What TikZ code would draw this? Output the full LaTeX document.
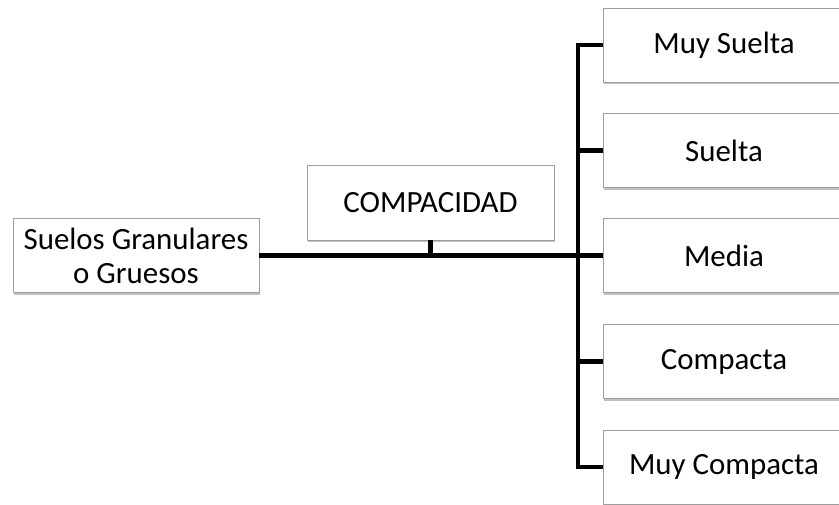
\documentclass[tikz,border=0pt]{standalone}
\usepackage{fontspec}
\setmainfont{Carlito}
\usetikzlibrary{shadows}
\begin{document}
\begin{tikzpicture}[x=1bp,y=1bp,
  box/.style={draw=black!38, line width=0.9bp, fill=white, inner sep=0pt,
    minimum height=74bp, align=center, font=\fontsize{31}{34}\selectfont,
    drop shadow={shadow xshift=1bp, shadow yshift=-2.5bp, opacity=0.35, fill=black!70}},
  leftbox/.style={box, minimum width=246bp},
  midbox/.style={box, minimum width=247bp, minimum height=75bp},
  rightbox/.style={box, minimum width=242bp},
  conn/.style={line width=4.5bp, black, line join=miter}]
\useasboundingbox (0,0) rectangle (839,505);
\node[leftbox] (suelos) at (136,249.5) {Suelos Granulares\\o Gruesos};
\node[midbox] (comp) at (430.5,302.5) {COMPACIDAD};
\node[rightbox] (ms) at (724,460) {Muy Suelta};
\node[rightbox] (su) at (724,354.5) {Suelta};
\node[rightbox] (me) at (724,249.5) {Media};
\node[rightbox] (co) at (724,143.5) {Compacta};
\node[rightbox] (mc) at (724,38) {Muy Compacta};
\coordinate (j) at (578,249.5);
\draw[conn, line width=5bp] (suelos.east) -- (j);
\draw[conn] (comp.south) -- (comp.south |- j);
\draw[conn] (ms.west) -- (ms.west -| j) -- (mc.west -| j) -- (mc.west);
\draw[conn] (su.west -| j) -- (su.west);
\draw[conn] (me.west -| j) -- (me.west);
\draw[conn] (co.west -| j) -- (co.west);
\end{tikzpicture}
\end{document}
